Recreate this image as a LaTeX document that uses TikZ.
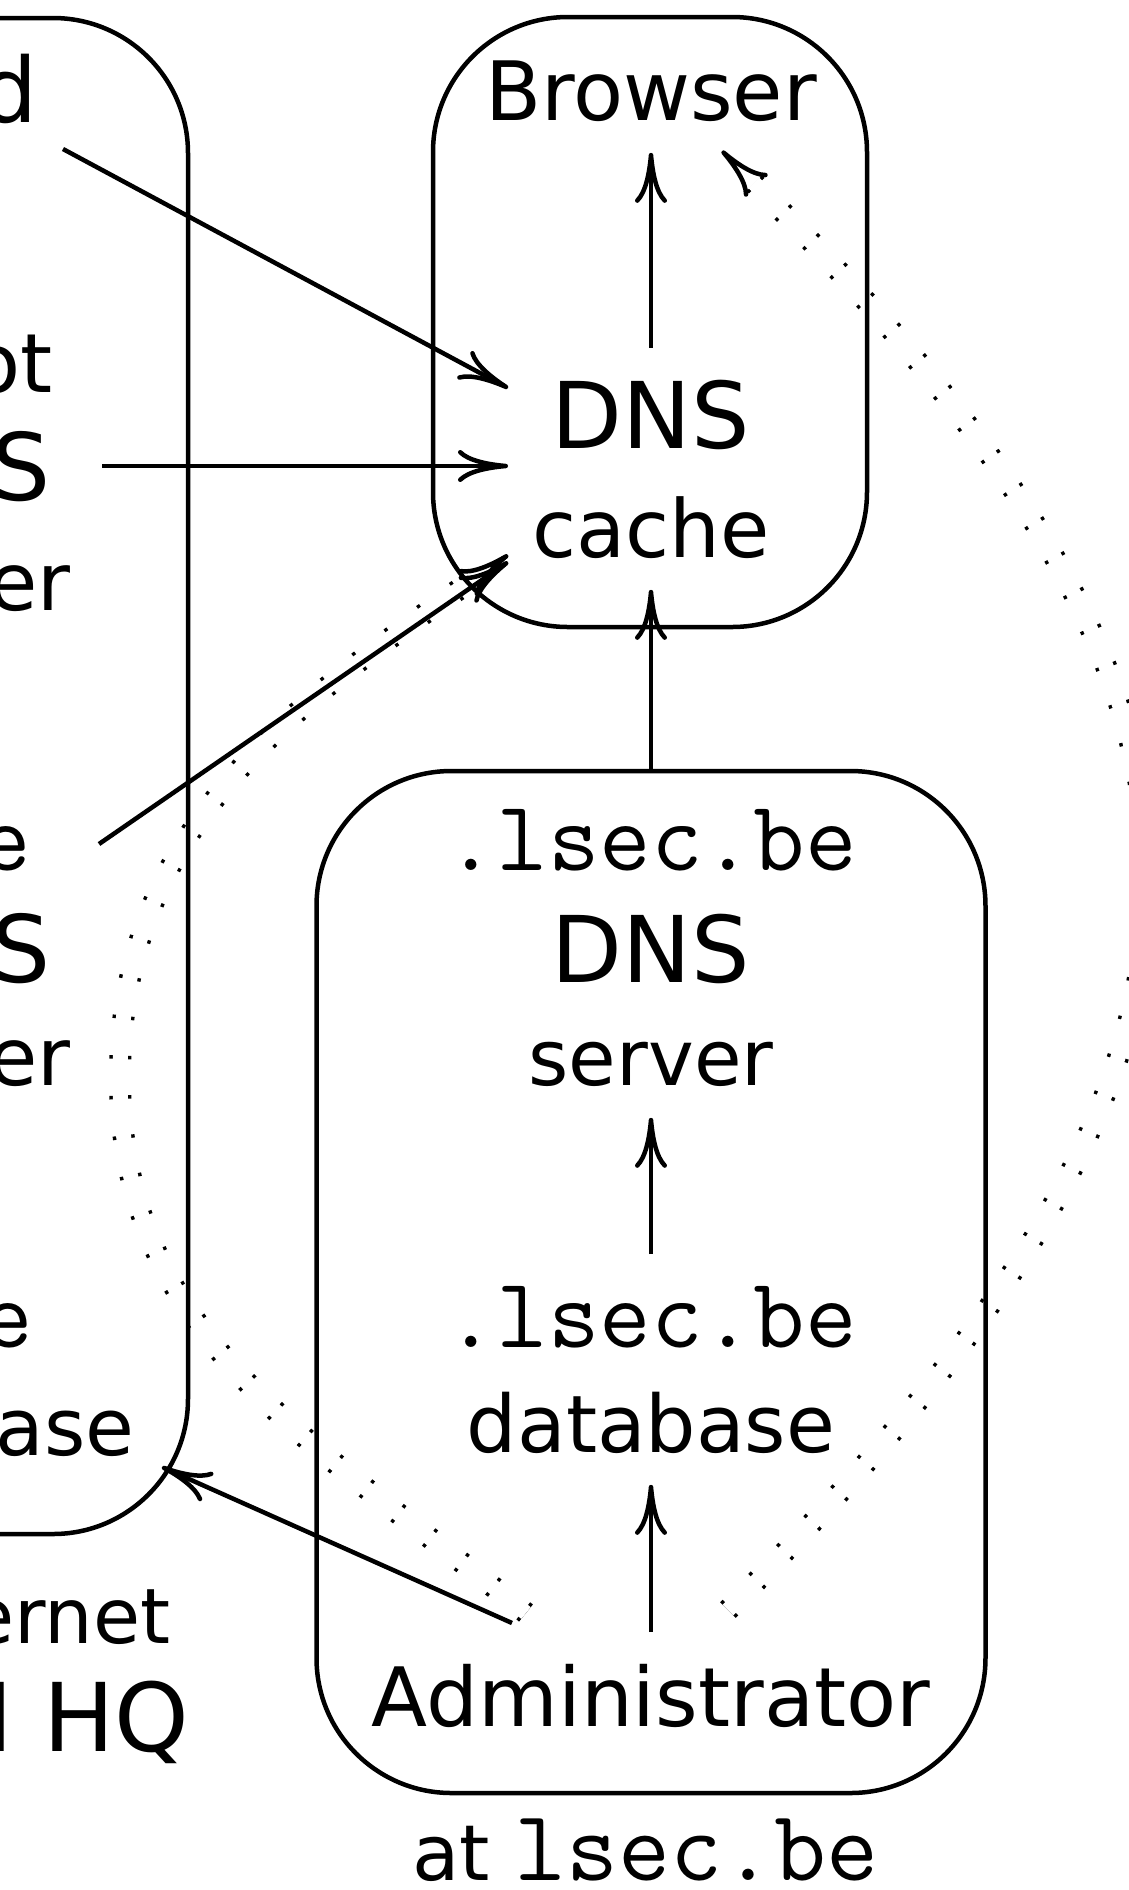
\documentclass[tikz,border=0pt]{standalone}
\usepackage{fontspec}
\setmainfont{DejaVu Sans}
\usetikzlibrary{arrows.meta,calc}
\newcommand\fsz[1]{\fontsize{#1}{#1}\selectfont}
\tikzset{
  box/.style={draw,line width=0.045cm,rounded corners=1.35cm,inner sep=0pt},
  lbl/.style={inner sep=0.31cm,anchor=base},
  frag/.style={inner sep=0pt,anchor=base east},
  arr/.style={-{To[length=0.5cm,width=0.32cm]},line width=0.045cm},
  dotrow/.style={line width=0.22cm,dash pattern=on 0.035cm off 0.365cm,
                 shorten >=0.45cm,
                 postaction={draw,white,line width=0.15cm,
                             dash pattern=on 0.075cm off 0.325cm,dash phase=0.02cm}},
  tiponly/.style={arr,shorten <=0.42cm},
}

\begin{document}
\begin{tikzpicture}
  \useasboundingbox (0,0) rectangle (11.29,-18.90);
  % dotted routes from the administrator
  \coordinate (lstart) at (5.26,-16.13);
  \coordinate (lbend) at (1.20,-10.77);
  \coordinate (ltip) at (5.08,-5.55);
  \coordinate (rstart) at (7.28,-16.10);
  \coordinate (rtip) at (7.22,-1.51);
  \coordinate (ltipbase) at ($(ltip)+(215:0.5)$);
  \coordinate (rtipbase) at ($(rtip)+(-45:0.5)$);
  \draw[dotrow] (lstart) to[out=141,in=-90] (lbend) to[out=90,in=215] (ltip);
  \draw[dotrow] (rstart) to[out=45,in=-45,looseness=1.38] (rtip);
  \draw[tiponly] (ltipbase) -- (ltip);
  \draw[tiponly] (rtipbase) -- (rtip);

  % boxes
  \node[box,minimum width=9.88cm,minimum height=15.16cm] (leftbox) at (-3.06,-7.76) {};
  \node[box,minimum width=4.34cm,minimum height=6.10cm] (cachebox) at (6.50,-3.22) {};
  \node[box,minimum width=6.69cm,minimum height=10.22cm] (lsecbox) at (6.51,-12.82) {};

  % right column
  \node[lbl,font=\fsz{23.3pt}] (browser) at (6.51,-1.20) {Browser};
  \node[lbl,font=\fsz{26.2pt}] (cachedns) at (6.51,-4.48) {DNS};
  \node[lbl,font=\fsz{22.8pt}] (cachetxt) at (6.51,-5.57) {cache};
  \node[lbl,font=\ttfamily\fsz{28.45pt}] (dnsname) at (6.51,-8.70) {.lsec.be};
  \node[lbl,font=\fsz{26.2pt}] (srvdns) at (6.51,-9.82) {DNS};
  \node[lbl,font=\fsz{22pt}] (server) at (6.51,-10.85) {server};
  \node[lbl,font=\ttfamily\fsz{28.45pt}] (dbname) at (6.51,-13.47) {.lsec.be};
  \node[lbl,font=\fsz{22.6pt}] (database) at (6.51,-14.52) {database};
  \node[lbl,font=\fsz{23.3pt}] (admin) at (6.51,-17.26) {Administrator};
  \node[inner sep=0pt,anchor=base,font=\fsz{22pt}] (atlsec) at (6.45,-18.80)
    {at {\ttfamily\fsz{28.7pt}lsec.be}};

  % left column, cut by the frame
  \node[frag,font=\fsz{25.6pt}] (lword) at (0.38,-1.22) {d};
  \node[frag,font=\fsz{23.3pt}] (rootname) at (0.53,-3.92) {ot};
  \node[frag,font=\fsz{26.5pt}] (rootdns) at (0.51,-5.00) {S};
  \node[frag,font=\fsz{22.8pt}] (rootsrv) at (0.71,-6.10) {er};
  \node[frag,font=\ttfamily\fsz{28.45pt}] (bename) at (0.32,-8.70) {e};
  \node[frag,font=\fsz{26.5pt}] (bedns) at (0.51,-9.82) {S};
  \node[frag,font=\fsz{22.8pt}] (besrv) at (0.71,-10.85) {er};
  \node[frag,font=\ttfamily\fsz{28.45pt}] (bedbname) at (0.34,-13.47) {e};
  \node[frag,font=\fsz{22.6pt}] (bedb) at (1.35,-14.55) {base};
  \node[frag,font=\fsz{21.8pt}] (hqline) at (1.71,-16.43) {ernet};
  \node[frag,font=\fsz{27pt}] (hq) at (1.90,-17.51) {I HQ};

  % connectors
  \coordinate (dstart) at (0.63,-1.49);   \coordinate (dtip) at (5.08,-3.88);
  \coordinate (rootout) at (1.02,-4.66);  \coordinate (roottip) at (5.08,-4.66);
  \coordinate (beout) at (0.99,-8.44);    \coordinate (betip) at (5.08,-5.62);
  \coordinate (admout) at (5.12,-16.23);  \coordinate (hqtip) at (1.62,-14.67);
  \draw[arr] (cachedns) -- (browser);
  \draw[arr] (lsecbox) -- (cachetxt);
  \draw[arr] (dbname) -- (server);
  \draw[arr] (admin) -- (database);
  \draw[arr] (dstart) -- (dtip);
  \draw[arr] (rootout) -- (roottip);
  \draw[arr] (beout) -- (betip);
  \draw[arr] (admout) -- (hqtip);
\end{tikzpicture}
\end{document}
